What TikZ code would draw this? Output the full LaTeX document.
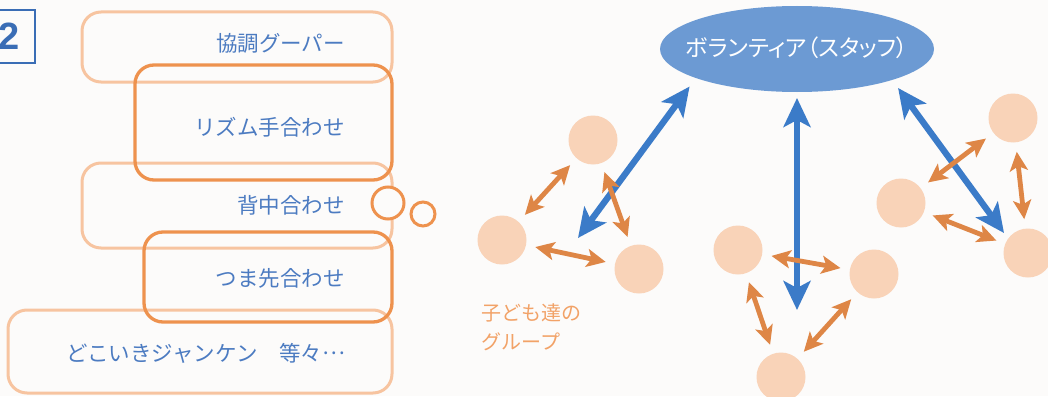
\documentclass[tikz,border=0pt]{standalone}
\usepackage{fontspec}
\newfontfamily\jp{Noto Sans CJK JP}
\newfontfamily\jpp[RawFeature=+palt]{Noto Sans CJK JP}
\newfontfamily\lat{Liberation Sans}
\usetikzlibrary{arrows.meta,shapes.geometric}
\definecolor{bgc}{HTML}{FCFBFA}
\definecolor{lightbox}{HTML}{F7C4A0}
\definecolor{darkbox}{HTML}{EE924E}
\definecolor{kidfill}{HTML}{F9D3B8}
\definecolor{arrorange}{HTML}{DE8646}
\definecolor{arrblue}{HTML}{3B7BC8}
\definecolor{ellfill}{HTML}{6C9AD3}
\definecolor{txtblue}{HTML}{4C7BC1}
\definecolor{numblue}{HTML}{3A6DB5}
\definecolor{grptxt}{HTML}{F2A267}
\begin{document}
\begin{tikzpicture}[x=1pt,y=-1pt,
  lbox/.style={draw=lightbox,line width=3pt,rounded corners=19pt,inner sep=0pt,outer sep=0pt},
  dbox/.style={draw=darkbox,line width=3.3pt,rounded corners=19pt,inner sep=0pt,outer sep=0pt},
  ring/.style={circle,draw=darkbox,line width=3pt,fill=bgc,inner sep=0pt,outer sep=0pt},
  lt/.style={anchor=east,text=txtblue,inner sep=0pt,font=\jp\fontsize{21.5}{26}\selectfont},
  kid/.style={circle,fill=kidfill,minimum size=49pt,inner sep=0pt,outer sep=0pt},
  oarr/.style={draw=arrorange,line width=4.8pt,
    {Stealth[length=19pt,width=18pt,inset=4.5pt]}-{Stealth[length=19pt,width=18pt,inset=4.5pt]},
    shorten <=9.5pt,shorten >=9.5pt},
  barr/.style={draw=arrblue,line width=6.3pt,
    {Stealth[length=29pt,width=27pt,inset=7pt]}-{Stealth[length=29pt,width=27pt,inset=7pt]}}
]
\fill[bgc] (0,0) rectangle (1048,396);
\useasboundingbox (0,0) rectangle (1048,396);

% number box
\node[draw=numblue,line width=1.3pt,minimum width=40pt,minimum height=53pt,inner sep=0pt] (numbox) at (15,36.5) {};
\node[text=numblue,inner sep=0pt,font=\lat\bfseries\fontsize{38}{38}\selectfont] (num) at (9,36.5) {2};

% left boxes
\node[lbox,minimum width=310pt,minimum height=70pt] (b1) at (237,47) {};
\node[lbox,minimum width=310pt,minimum height=85pt] (b3) at (237,205.5) {};
\node[lbox,minimum width=384pt,minimum height=83pt] (b5) at (200,351.5) {};
\node[dbox,minimum width=257pt,minimum height=115pt] (b2) at (263.5,122.5) {};
\node[dbox,minimum width=248pt,minimum height=90pt] (b4) at (268,277) {};
\node[ring,minimum size=32pt] (r1) at (388,203) {};
\node[ring,minimum size=24pt] (r2) at (423,214) {};

\node[lt] (t1) at (345,43) {協調グーパー};
\node[lt] (t2) at (345,127) {リズム手合わせ};
\node[lt] (t3) at (345,205) {背中合わせ};
\node[lt] (t4) at (345,278) {つま先合わせ};
\node[lt] (t5) at (345,353) {どこいきジャンケン　等々\raisebox{0.3em}{…}};

% right side
\node[ellipse,fill=ellfill,minimum width=274pt,minimum height=86pt,inner sep=0pt,outer sep=0pt] (v) at (797,49) {};
\node[text=white,inner sep=0pt,font=\jpp\fontsize{23}{27}\selectfont] (vt) at (797,48) {ボランティア（スタッフ）};

\node[kid] (c1) at (593,140) {};
\node[kid] (c2) at (502,240) {};
\node[kid] (c3) at (639,269) {};
\node[kid] (c4) at (738,250) {};
\node[kid] (c5) at (874,274) {};
\node[kid] (c6) at (781,377) {};
\node[kid] (c7) at (1013,118) {};
\node[kid] (c8) at (901,203) {};
\node[kid] (c9) at (1028,253) {};

\coordinate (e1) at (578,238);
\coordinate (e2) at (797,310);
\coordinate (e3) at (1004,233);

\draw[barr,shorten >=10.6pt] (e1) -- (v.196.7);
\draw[barr,shorten >=6pt] (e2) -- (v.south);
\draw[barr,shorten >=10pt] (e3) -- (v.342);

\draw[oarr] (c1) -- (c2);
\draw[oarr] (c1) -- (c3);
\draw[oarr] (c2) -- (c3);
\draw[oarr] (c4) -- (c5);
\draw[oarr] (c4) -- (c6);
\draw[oarr] (c5) -- (c6);
\draw[oarr] (c7) -- (c8);
\draw[oarr] (c7) -- (c9);
\draw[oarr] (c8) -- (c9);

\node[anchor=west,align=left,text=grptxt,inner sep=0pt,font=\jp\fontsize{20}{29}\selectfont] (grp) at (481,327.5) {子ども達の\\グループ};
\end{tikzpicture}
\end{document}
